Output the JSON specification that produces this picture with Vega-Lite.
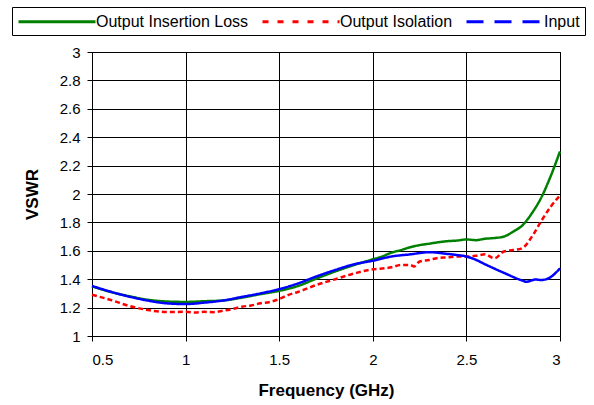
{
  "$schema": "https://vega.github.io/schema/vega-lite/v6.json",
  "width": 468,
  "height": 284,
  "autosize": {"type": "none"},
  "padding": {"left": 92, "top": 52, "right": 34, "bottom": 69},
  "background": "white",
  "config": {
    "font": "Liberation Sans",
    "view": {"stroke": "black", "strokeWidth": 1},
    "axis": {
      "gridColor": "black", "gridOpacity": 1, "gridWidth": 1,
      "domainColor": "black", "tickColor": "black", "tickSize": 5,
      "labelColor": "black", "labelFontSize": 15, "labelFont": "Liberation Sans",
      "titleColor": "black", "titleFontSize": 17, "titleFont": "Liberation Sans", "titleFontWeight": "bold"
    }
  },
  "data": {
    "values": [
      {"freq": 0.5, "series": "Output Insertion Loss", "vswr": 1.35},
      {"freq": 0.6, "series": "Output Insertion Loss", "vswr": 1.31},
      {"freq": 0.7, "series": "Output Insertion Loss", "vswr": 1.28},
      {"freq": 0.8, "series": "Output Insertion Loss", "vswr": 1.255},
      {"freq": 0.9, "series": "Output Insertion Loss", "vswr": 1.243},
      {"freq": 1.0, "series": "Output Insertion Loss", "vswr": 1.24},
      {"freq": 1.1, "series": "Output Insertion Loss", "vswr": 1.245},
      {"freq": 1.2, "series": "Output Insertion Loss", "vswr": 1.25},
      {"freq": 1.3, "series": "Output Insertion Loss", "vswr": 1.27},
      {"freq": 1.4, "series": "Output Insertion Loss", "vswr": 1.295},
      {"freq": 1.5, "series": "Output Insertion Loss", "vswr": 1.318},
      {"freq": 1.6, "series": "Output Insertion Loss", "vswr": 1.352},
      {"freq": 1.7, "series": "Output Insertion Loss", "vswr": 1.405},
      {"freq": 1.8, "series": "Output Insertion Loss", "vswr": 1.455},
      {"freq": 1.9, "series": "Output Insertion Loss", "vswr": 1.5},
      {"freq": 2.0, "series": "Output Insertion Loss", "vswr": 1.54},
      {"freq": 2.05, "series": "Output Insertion Loss", "vswr": 1.56},
      {"freq": 2.1, "series": "Output Insertion Loss", "vswr": 1.587},
      {"freq": 2.15, "series": "Output Insertion Loss", "vswr": 1.605},
      {"freq": 2.2, "series": "Output Insertion Loss", "vswr": 1.625},
      {"freq": 2.25, "series": "Output Insertion Loss", "vswr": 1.64},
      {"freq": 2.3, "series": "Output Insertion Loss", "vswr": 1.65},
      {"freq": 2.35, "series": "Output Insertion Loss", "vswr": 1.66},
      {"freq": 2.4, "series": "Output Insertion Loss", "vswr": 1.668},
      {"freq": 2.45, "series": "Output Insertion Loss", "vswr": 1.672},
      {"freq": 2.5, "series": "Output Insertion Loss", "vswr": 1.68},
      {"freq": 2.55, "series": "Output Insertion Loss", "vswr": 1.675},
      {"freq": 2.6, "series": "Output Insertion Loss", "vswr": 1.685},
      {"freq": 2.65, "series": "Output Insertion Loss", "vswr": 1.69},
      {"freq": 2.7, "series": "Output Insertion Loss", "vswr": 1.7},
      {"freq": 2.75, "series": "Output Insertion Loss", "vswr": 1.735},
      {"freq": 2.8, "series": "Output Insertion Loss", "vswr": 1.78},
      {"freq": 2.85, "series": "Output Insertion Loss", "vswr": 1.865},
      {"freq": 2.9, "series": "Output Insertion Loss", "vswr": 1.975},
      {"freq": 2.95, "series": "Output Insertion Loss", "vswr": 2.125},
      {"freq": 3.0, "series": "Output Insertion Loss", "vswr": 2.3},

      {"freq": 0.5, "series": "Output Isolation", "vswr": 1.29},
      {"freq": 0.6, "series": "Output Isolation", "vswr": 1.254},
      {"freq": 0.7, "series": "Output Isolation", "vswr": 1.211},
      {"freq": 0.8, "series": "Output Isolation", "vswr": 1.183},
      {"freq": 0.9, "series": "Output Isolation", "vswr": 1.169},
      {"freq": 1.0, "series": "Output Isolation", "vswr": 1.17},
      {"freq": 1.05, "series": "Output Isolation", "vswr": 1.165},
      {"freq": 1.1, "series": "Output Isolation", "vswr": 1.17},
      {"freq": 1.15, "series": "Output Isolation", "vswr": 1.168},
      {"freq": 1.2, "series": "Output Isolation", "vswr": 1.178},
      {"freq": 1.25, "series": "Output Isolation", "vswr": 1.19},
      {"freq": 1.3, "series": "Output Isolation", "vswr": 1.206},
      {"freq": 1.35, "series": "Output Isolation", "vswr": 1.215},
      {"freq": 1.4, "series": "Output Isolation", "vswr": 1.23},
      {"freq": 1.45, "series": "Output Isolation", "vswr": 1.24},
      {"freq": 1.5, "series": "Output Isolation", "vswr": 1.26},
      {"freq": 1.55, "series": "Output Isolation", "vswr": 1.29},
      {"freq": 1.6, "series": "Output Isolation", "vswr": 1.31},
      {"freq": 1.7, "series": "Output Isolation", "vswr": 1.36},
      {"freq": 1.8, "series": "Output Isolation", "vswr": 1.4},
      {"freq": 1.9, "series": "Output Isolation", "vswr": 1.44},
      {"freq": 2.0, "series": "Output Isolation", "vswr": 1.47},
      {"freq": 2.05, "series": "Output Isolation", "vswr": 1.475},
      {"freq": 2.1, "series": "Output Isolation", "vswr": 1.484},
      {"freq": 2.15, "series": "Output Isolation", "vswr": 1.5},
      {"freq": 2.2, "series": "Output Isolation", "vswr": 1.5},
      {"freq": 2.22, "series": "Output Isolation", "vswr": 1.49},
      {"freq": 2.25, "series": "Output Isolation", "vswr": 1.525},
      {"freq": 2.3, "series": "Output Isolation", "vswr": 1.535},
      {"freq": 2.35, "series": "Output Isolation", "vswr": 1.55},
      {"freq": 2.4, "series": "Output Isolation", "vswr": 1.554},
      {"freq": 2.45, "series": "Output Isolation", "vswr": 1.56},
      {"freq": 2.5, "series": "Output Isolation", "vswr": 1.56},
      {"freq": 2.55, "series": "Output Isolation", "vswr": 1.565},
      {"freq": 2.6, "series": "Output Isolation", "vswr": 1.575},
      {"freq": 2.65, "series": "Output Isolation", "vswr": 1.547},
      {"freq": 2.7, "series": "Output Isolation", "vswr": 1.595},
      {"freq": 2.75, "series": "Output Isolation", "vswr": 1.605},
      {"freq": 2.8, "series": "Output Isolation", "vswr": 1.62},
      {"freq": 2.85, "series": "Output Isolation", "vswr": 1.7},
      {"freq": 2.9, "series": "Output Isolation", "vswr": 1.81},
      {"freq": 2.95, "series": "Output Isolation", "vswr": 1.91},
      {"freq": 3.0, "series": "Output Isolation", "vswr": 1.99},

      {"freq": 0.5, "series": "Input", "vswr": 1.352},
      {"freq": 0.6, "series": "Input", "vswr": 1.312},
      {"freq": 0.7, "series": "Input", "vswr": 1.277},
      {"freq": 0.8, "series": "Input", "vswr": 1.249},
      {"freq": 0.9, "series": "Input", "vswr": 1.23},
      {"freq": 1.0, "series": "Input", "vswr": 1.225},
      {"freq": 1.1, "series": "Input", "vswr": 1.235},
      {"freq": 1.2, "series": "Input", "vswr": 1.25},
      {"freq": 1.3, "series": "Input", "vswr": 1.275},
      {"freq": 1.4, "series": "Input", "vswr": 1.3},
      {"freq": 1.5, "series": "Input", "vswr": 1.33},
      {"freq": 1.6, "series": "Input", "vswr": 1.37},
      {"freq": 1.7, "series": "Input", "vswr": 1.42},
      {"freq": 1.8, "series": "Input", "vswr": 1.465},
      {"freq": 1.9, "series": "Input", "vswr": 1.505},
      {"freq": 2.0, "series": "Input", "vswr": 1.53},
      {"freq": 2.1, "series": "Input", "vswr": 1.56},
      {"freq": 2.2, "series": "Input", "vswr": 1.575},
      {"freq": 2.3, "series": "Input", "vswr": 1.59},
      {"freq": 2.4, "series": "Input", "vswr": 1.578},
      {"freq": 2.45, "series": "Input", "vswr": 1.57},
      {"freq": 2.5, "series": "Input", "vswr": 1.56},
      {"freq": 2.55, "series": "Input", "vswr": 1.537},
      {"freq": 2.6, "series": "Input", "vswr": 1.505},
      {"freq": 2.7, "series": "Input", "vswr": 1.445},
      {"freq": 2.8, "series": "Input", "vswr": 1.39},
      {"freq": 2.82, "series": "Input", "vswr": 1.382},
      {"freq": 2.87, "series": "Input", "vswr": 1.398},
      {"freq": 2.9, "series": "Input", "vswr": 1.394},
      {"freq": 2.95, "series": "Input", "vswr": 1.415},
      {"freq": 3.0, "series": "Input", "vswr": 1.477}
    ]
  },
  "encoding": {
    "x": {
      "field": "freq", "type": "quantitative",
      "scale": {"domain": [0.5, 3], "nice": false, "zero": false},
      "axis": {"values": [0.5, 1, 1.5, 2, 2.5, 3], "format": "~g", "title": "Frequency (GHz)", "labelPadding": 11, "titlePadding": 15}
    },
    "y": {
      "field": "vswr", "type": "quantitative",
      "scale": {"domain": [1, 3], "nice": false, "zero": false},
      "axis": {"values": [1, 1.2, 1.4, 1.6, 1.8, 2, 2.2, 2.4, 2.6, 2.8, 3], "format": "~g", "title": "VSWR", "labelPadding": 7, "titlePadding": 18}
    }
  },
  "layer": [
    {
      "mark": {"type": "line", "strokeWidth": 2.5, "interpolate": "monotone"},
      "encoding": {
        "color": {
          "field": "series", "type": "nominal",
          "scale": {"domain": ["Output Insertion Loss", "Output Isolation", "Input"], "range": ["#008000", "#ff0000", "#0000ff"]}
        },
        "strokeDash": {
          "condition": {"test": "datum.series === 'Output Isolation'", "value": [5, 3]},
          "value": [1, 0]
        }
      }
    },
    {
      "transform": [{"filter": "datum.freq === 0.5"}],
      "mark": {"type": "line", "strokeWidth": 2.5},
      "encoding": {
        "color": {
          "field": "series", "type": "nominal",
          "scale": {"domain": ["Output Insertion Loss", "Output Isolation", "Input"], "range": ["#008000", "#ff0000", "#0000ff"]},
          "legend": {
            "orient": "none", "legendX": -80, "legendY": -45, "direction": "horizontal", "columns": 3,
            "title": null, "strokeColor": "black", "fillColor": "white", "padding": 5,
            "labelFontSize": 16, "labelFont": "Liberation Sans", "labelColor": "black", "labelOffset": 60,
            "symbolType": "M-1,0H8.625", "symbolSize": 256, "symbolStrokeWidth": 3, "columnPadding": 7, "cornerRadius": 0
          }
        },
        "strokeDash": {
          "field": "series", "type": "nominal",
          "scale": {"domain": ["Output Insertion Loss", "Output Isolation", "Input"], "range": [[1, 0], [6, 9], [17, 11]]}
        }
      }
    }
  ]
}
